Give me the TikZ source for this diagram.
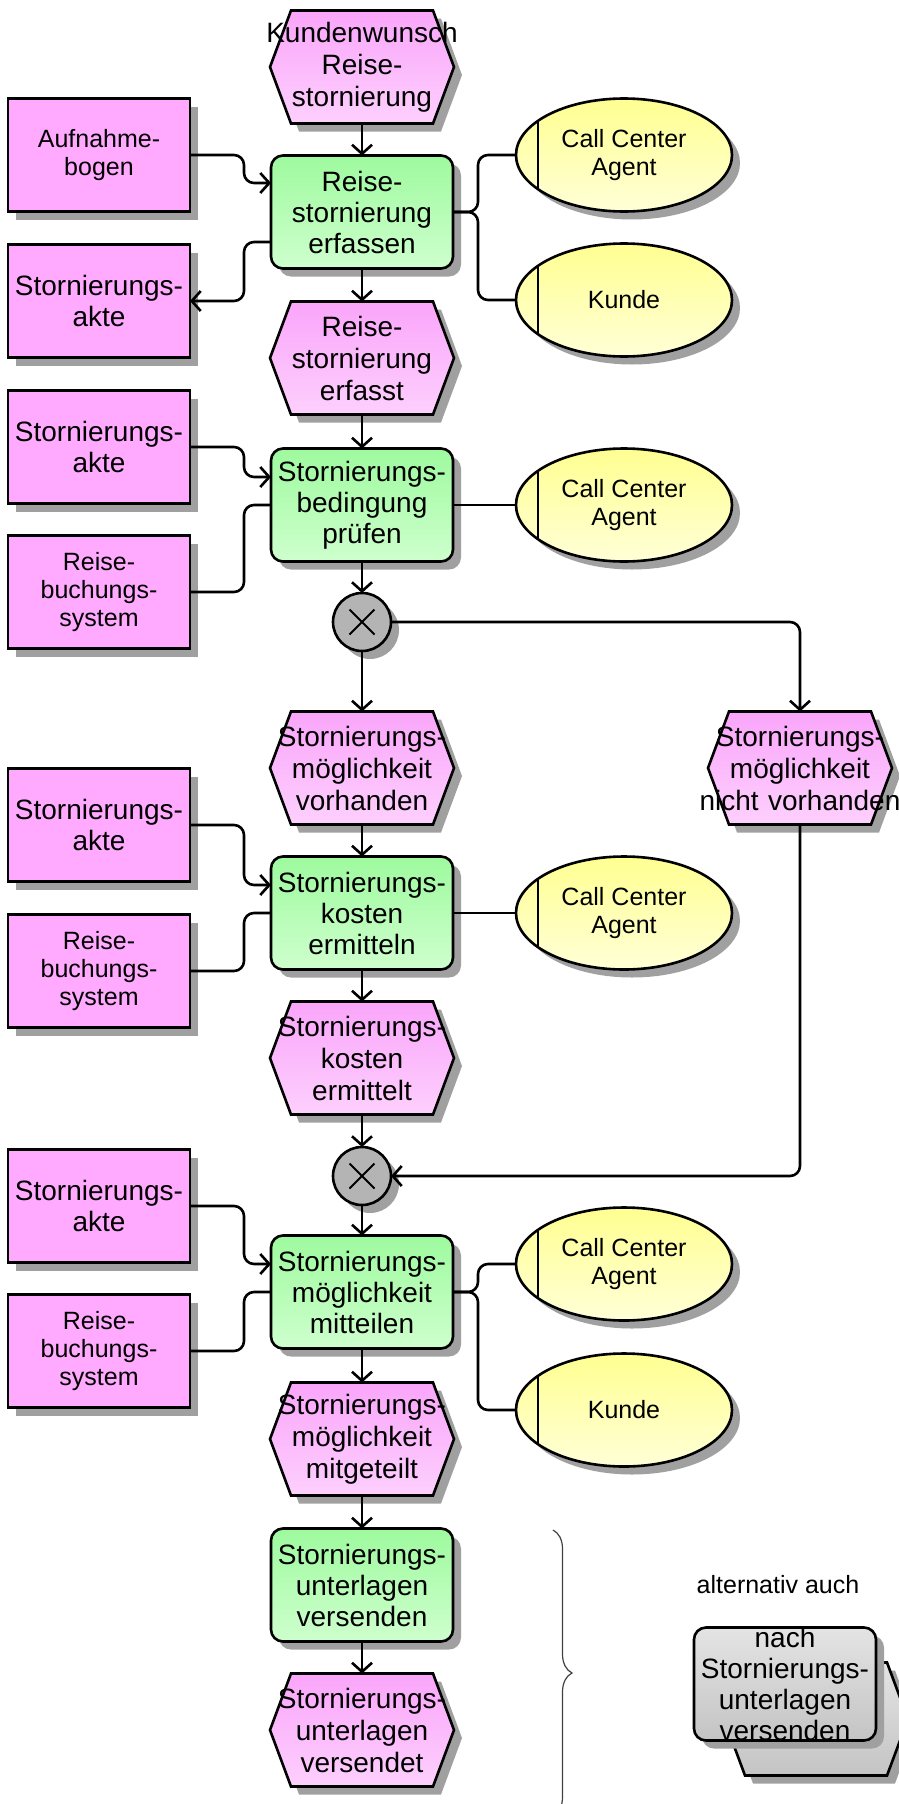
\documentclass[tikz,border=0pt]{standalone}
\usepackage{fontspec}
\setmainfont{Liberation Sans}
\usetikzlibrary{arrows.meta, shapes.geometric, shadows, decorations.pathreplacing}
\definecolor{fntop}{RGB}{158,250,158}
\definecolor{fnbot}{RGB}{206,255,206}
\definecolor{evtop}{RGB}{250,165,250}
\definecolor{evbot}{RGB}{253,208,253}
\definecolor{objpink}{RGB}{255,170,255}
\definecolor{orgtop}{RGB}{255,255,145}
\definecolor{orgbot}{RGB}{255,255,215}
\definecolor{xorgray}{RGB}{180,180,180}
\definecolor{shadowgray}{RGB}{160,160,160}
\definecolor{grtop}{RGB}{228,228,228}
\definecolor{grbot}{RGB}{196,196,196}
\newcommand{\bigtxt}{\fontsize{28}{31}\selectfont}
\newcommand{\evtxt}{\fontsize{28}{32}\selectfont}
\newcommand{\smalltxt}{\fontsize{25}{28}\selectfont}
\newdimen\hexL \newdimen\hexR \newdimen\hexT \newdimen\hexB \newdimen\hexM
\newdimen\hexLi \newdimen\hexRi
\makeatletter
\pgfdeclareshape{epchexagon}{
  \inheritsavedanchors[from=rectangle]
  \inheritanchorborder[from=rectangle]
  \inheritanchor[from=rectangle]{center}
  \inheritanchor[from=rectangle]{north}
  \inheritanchor[from=rectangle]{south}
  \inheritanchor[from=rectangle]{east}
  \inheritanchor[from=rectangle]{west}
  \inheritanchor[from=rectangle]{north east}
  \inheritanchor[from=rectangle]{north west}
  \inheritanchor[from=rectangle]{south east}
  \inheritanchor[from=rectangle]{south west}
  \backgroundpath{
    \southwest \hexL=\pgf@x \hexB=\pgf@y
    \northeast \hexR=\pgf@x \hexT=\pgf@y
    \hexM=.5\hexB \advance\hexM by .5\hexT
    \hexLi=\hexL \advance\hexLi by 21pt
    \hexRi=\hexR \advance\hexRi by -21pt
    \pgfpathmoveto{\pgfqpoint{\hexL}{\hexM}}
    \pgfpathlineto{\pgfqpoint{\hexLi}{\hexT}}
    \pgfpathlineto{\pgfqpoint{\hexRi}{\hexT}}
    \pgfpathlineto{\pgfqpoint{\hexR}{\hexM}}
    \pgfpathlineto{\pgfqpoint{\hexRi}{\hexB}}
    \pgfpathlineto{\pgfqpoint{\hexLi}{\hexB}}
    \pgfpathclose
  }
}
\makeatother

\begin{document}
\begin{tikzpicture}[x=1pt, y=-1pt]
		\tikzset{shadowed/.style={drop shadow={shadow xshift=8pt, shadow yshift=-8pt, fill=shadowgray, opacity=1}},
			epc function/.style={rectangle, rounded corners=12pt, draw, line width=2.6pt, top color=fntop, bottom color=fnbot, minimum width=182pt, minimum height=113pt, inner sep=0pt, outer sep=0pt, align=center, font=\bigtxt, shadowed},
			epc event/.style={shape=epchexagon, draw, line width=2.6pt, top color=evtop, bottom color=evbot, minimum width=184pt, minimum height=113pt, text width=230pt, inner xsep=-23pt, inner ysep=0pt, outer sep=0pt, align=center, font=\evtxt, shadowed},
			info object/.style={rectangle, draw, line width=2.6pt, fill=objpink, minimum width=182pt, minimum height=113pt, inner sep=0pt, outer sep=0pt, align=center, font=#1, shadowed},
			info object/.default=\bigtxt,
			org unit/.style={ellipse, draw, line width=2.6pt, top color=orgtop, bottom color=orgbot, minimum width=216pt, minimum height=113pt, inner sep=0pt, outer sep=0pt, align=center, font=\smalltxt, shadowed,
				path picture={\draw[line width=2.6pt] ([xshift=22pt,yshift=60pt]path picture bounding box.west) -- ([xshift=22pt,yshift=-60pt]path picture bounding box.west);}},
			xor gate/.style={circle, draw, line width=2.6pt, fill=xorgray, minimum size=58pt, inner sep=0pt, outer sep=0pt, shadowed,
				path picture={\draw[line width=2pt] ([shift={(-12.5pt,-12.5pt)}]path picture bounding box.center) -- ([shift={(12.5pt,12.5pt)}]path picture bounding box.center)
					([shift={(-12.5pt,12.5pt)}]path picture bounding box.center) -- ([shift={(12.5pt,-12.5pt)}]path picture bounding box.center);}},
			flow/.style={line width=2.6pt, rounded corners=10pt, -{Straight Barb[length=9pt,width=20pt]}},
			link/.style={line width=2.6pt, rounded corners=10pt}}
		\useasboundingbox (0,0) rectangle (898,1804);
		
		\node [epc event] (e0) at (362,67) {Kundenwunsch\\Reise-\\stornierung};
		\node [epc function] (f1) at (362,212) {Reise-\\stornierung\\erfassen};
		\node [epc event] (e1) at (362,358) {Reise-\\stornierung\\erfasst};
		\node [epc function] (f2) at (362,505) {Stornierungs-\\bedingung\\prüfen};
		\node [xor gate] (x1) at (362,622) {};
		\node [epc event] (e2) at (362,768) {Stornierungs-\\möglichkeit\\vorhanden};
		\node [epc event] (n1) at (800,768) {Stornierungs-\\möglichkeit\\nicht vorhanden};
		\node [epc function] (f3) at (362,913) {Stornierungs-\\kosten\\ermitteln};
		\node [epc event] (e3) at (362,1058) {Stornierungs-\\kosten\\ermittelt};
		\node [xor gate] (x2) at (362,1176) {};
		\node [epc function] (f4) at (362,1292) {Stornierungs-\\möglichkeit\\mitteilen};
		\node [epc event] (e4) at (362,1439) {Stornierungs-\\möglichkeit\\mitgeteilt};
		\node [epc function] (f5) at (362,1585) {Stornierungs-\\unterlagen\\versenden};
		\node [epc event] (e5) at (362,1730) {Stornierungs-\\unterlagen\\versendet};
		
		\node [info object=\smalltxt] (a1) at (99,155) {Aufnahme-\\bogen};
		\node [info object] (s1) at (99,301) {Stornierungs-\\akte};
		\node [info object] (s2) at (99,447) {Stornierungs-\\akte};
		\node [info object=\smalltxt] (r1) at (99,592) {Reise-\\buchungs-\\system};
		\node [info object] (s3) at (99,825) {Stornierungs-\\akte};
		\node [info object=\smalltxt] (r2) at (99,971) {Reise-\\buchungs-\\system};
		\node [info object] (s4) at (99,1206) {Stornierungs-\\akte};
		\node [info object=\smalltxt] (r3) at (99,1351) {Reise-\\buchungs-\\system};
		
		\node [org unit] (c1) at (624,155) {Call Center\\Agent};
		\node [org unit] (k1) at (624,300) {Kunde};
		\node [org unit] (c2) at (624,505) {Call Center\\Agent};
		\node [org unit] (c3) at (624,913) {Call Center\\Agent};
		\node [org unit] (c4) at (624,1264) {Call Center\\Agent};
		\node [org unit] (k2) at (624,1410) {Kunde};
		
		\node [epc event, top color=grtop, bottom color=grbot] (ge) at (816,1719) {};
		\node [epc function, top color=grtop, bottom color=grbot, inner ysep=-6pt] (gf) at (785,1684) {nach\\Stornierungs-\\unterlagen\\versenden};
		\node [font=\smalltxt] (alt) at (778,1585) {alternativ auch};
		\coordinate (bt) at (553,1530);
		\coordinate (bb) at (553,1816);
		\draw [decorate, decoration={brace, amplitude=19pt}, line width=1.2pt, black!75] (bt) -- (bb);
		
		\draw [flow] (e0.south) -- (f1.north);
		\draw [flow] (a1.east) -| ([xshift=-27pt,yshift=29pt]f1.west) -- ([yshift=29pt]f1.west);
		\draw [flow] ([yshift=-30pt]f1.west) -- ++(-27,0) |- (s1.east);
		\draw [link] (f1.east) -- ++(25,0) |- (c1.west);
		\draw [link] (f1.east) -- ++(25,0) |- (k1.west);
		\draw [flow] (f1.south) -- (e1.north);
		\draw [flow] (e1.south) -- (f2.north);
		\draw [flow] (s2.east) -| ([xshift=-27pt,yshift=28pt]f2.west) -- ([yshift=28pt]f2.west);
		\draw [link] (f2.west) -- ++(-27,0) |- (r1.east);
		\draw [link] (f2.east) -- (c2.west);
		\draw [flow] (f2.south) -- (x1.north);
		\draw [flow] (x1.south) -- (e2.north);
		\draw [flow] (x1.east) -| (n1.north);
		\draw [flow] (e2.south) -- (f3.north);
		\draw [flow] (s3.east) -| ([xshift=-27pt,yshift=28pt]f3.west) -- ([yshift=28pt]f3.west);
		\draw [link] (f3.west) -- ++(-27,0) |- (r2.east);
		\draw [link] (f3.east) -- (c3.west);
		\draw [flow] (f3.south) -- (e3.north);
		\draw [flow] (e3.south) -- (x2.north);
		\draw [flow] (n1.south) |- (x2.east);
		\draw [flow] (x2.south) -- (f4.north);
		\draw [flow] (s4.east) -| ([xshift=-27pt,yshift=28pt]f4.west) -- ([yshift=28pt]f4.west);
		\draw [link] (f4.west) -- ++(-27,0) |- (r3.east);
		\draw [link] (f4.east) -- ++(25,0) |- (c4.west);
		\draw [link] (f4.east) -- ++(25,0) |- (k2.west);
		\draw [flow] (f4.south) -- (e4.north);
		\draw [flow] (e4.south) -- (f5.north);
		\draw [flow] (f5.south) -- (e5.north);
		\end{tikzpicture}
\end{document}
